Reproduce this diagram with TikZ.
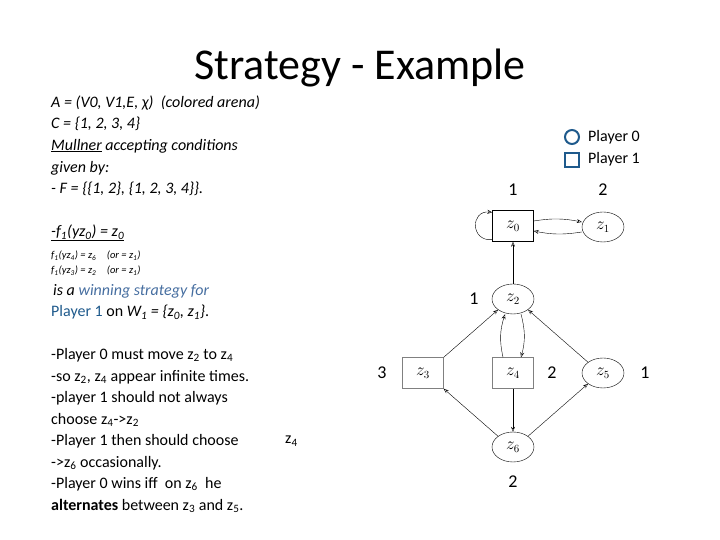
\documentclass[tikz,border=0pt]{standalone}
\usepackage{fontspec}
\setmainfont{Carlito}
\usetikzlibrary{shapes.geometric,arrows.meta}
\definecolor{pblue}{RGB}{31,90,140}
\definecolor{lblue}{RGB}{70,110,160}
\begin{document}
\begin{tikzpicture}[x=1pt,y=1pt,
  txt/.style={anchor=west,inner sep=0pt,font=\fontsize{16}{19}\selectfont},
  sm/.style={anchor=west,inner sep=0pt,font=\fontsize{10.5}{12}\selectfont\itshape},
  sq/.style={draw,thin,minimum width=41pt,minimum height=31pt,inner sep=0pt,font=\fontsize{16}{18}\selectfont},
  el/.style={draw,thin,ellipse,minimum width=42pt,minimum height=30pt,inner sep=0pt,font=\fontsize{16}{18}\selectfont},
  lab/.style={font=\fontsize{18}{20}\selectfont\rmfamily},
  ar/.style={-{Stealth[length=5pt,width=4pt,open]},thin}]
\useasboundingbox (0,0) rectangle (720,540);
\node[font=\fontsize{44}{50}\selectfont] (title) at (360,472) {Strategy - Example};
\node[txt] (t1) at (51,437) {\itshape A = (V0, V1,E, χ)\ \ (colored arena)};
\node[txt] (t2) at (51,416) {\itshape C = \{1, 2, 3, 4\}};
\node[txt] (t3) at (51,394) {\itshape \underline{Mullner} accepting conditions};
\node[txt] (t4) at (51,372) {\itshape given by:};
\node[txt] (t5) at (51,351) {\itshape - F = \{\{1, 2\}, \{1, 2, 3, 4\}\}.};
\node[txt] (t6) at (51,307) {\itshape \underline{-f\textsubscript{1}(yz\textsubscript{0}) = z\textsubscript{0}}};
\node[sm] (t7) at (51,284) {f\textsubscript{1}(yz\textsubscript{4}) = z\textsubscript{6}\quad (or = z\textsubscript{1})};
\node[sm] (t8) at (51,269) {f\textsubscript{1}(yz\textsubscript{3}) = z\textsubscript{2}\quad (or = z\textsubscript{1})};
\node[txt] (t9) at (53,249) {\itshape is a \textcolor{lblue}{winning strategy for}};
\node[txt] (t10) at (51,228) {\textcolor{pblue}{Player 1} on \textit{W\textsubscript{1} = \{z\textsubscript{0}, z\textsubscript{1}\}}.};
\node[txt] (u1) at (51,185) {-Player 0 must move z\textsubscript{2} to z\textsubscript{4}};
\node[txt] (u2) at (51,163) {-so z\textsubscript{2}, z\textsubscript{4} appear infinite times.};
\node[txt] (u3) at (51,142) {-player 1 should not always};
\node[txt] (u4) at (51,120) {choose z\textsubscript{4}->z\textsubscript{2}};
\node[txt] (u5) at (51,99) {-Player 1 then should choose};
\node[txt] (u6) at (51,77) {->z\textsubscript{6} occasionally.};
\node[txt] (u7) at (51,56) {-Player 0 wins iff\ \ on z\textsubscript{6}\ \ he};
\node[txt] (u8) at (51,34) {\textbf{alternates} between z\textsubscript{3} and z\textsubscript{5}.};
\node[txt] (z4t) at (285,99) {z\textsubscript{4}};
% legend
\node[draw=pblue,line width=2pt,circle,minimum size=14pt,inner sep=0pt] (lc) at (572,403) {};
\node[draw=pblue,line width=2pt,minimum size=14pt,inner sep=0pt] (ls) at (572,380) {};
\node[txt] (lt1) at (588,403) {Player 0};
\node[txt] (lt2) at (588,381) {Player 1};
% graph
\node[sq] (z0) at (513,314) {$z_0$};
\node[el] (z1) at (603,313) {$z_1$};
\node[el] (z2) at (513,241) {$z_2$};
\node[sq,draw=gray] (z3) at (423,167) {$z_3$};
\node[sq,draw=gray] (z4) at (513,167) {$z_4$};
\node[el] (z5) at (603,167) {$z_5$};
\node[el] (z6) at (513,93) {$z_6$};
\node[lab] (c0) at (513,350) {1};
\node[lab] (c1) at (603,350) {2};
\node[lab] (c2) at (474,241) {1};
\node[lab] (c3) at (382,167) {3};
\node[lab] (c4) at (552,167) {2};
\node[lab] (c5) at (645,167) {1};
\node[lab] (c6) at (513,58) {2};
\draw[ar] ([yshift=2pt]z0.south west) .. controls +(-22,-2) and +(-22,2) .. ([yshift=-2pt]z0.north west);
\draw[ar] ([yshift=5pt]z0.east) to[bend left=10] ([yshift=5pt]z1.west);
\draw[ar] ([yshift=-5pt]z1.west) to[bend left=10] ([yshift=-5pt]z0.east);
\draw[ar] (z2) -- (z0);
\draw[ar] ([xshift=8pt]z2.south) to[bend left=15] ([xshift=8pt]z4.north);
\draw[ar] ([xshift=-10pt]z4.north) to[bend left=15] ([xshift=-8pt]z2.south);
\draw[ar] (z3.north east) -- (z2.south west);
\draw[ar] (z5.north west) -- (z2.south east);
\draw[ar] (z4) -- (z6);
\draw[ar] (z6.north west) -- (z3.south east);
\draw[ar] (z6.north east) -- (z5.south west);
\end{tikzpicture}
\end{document}
